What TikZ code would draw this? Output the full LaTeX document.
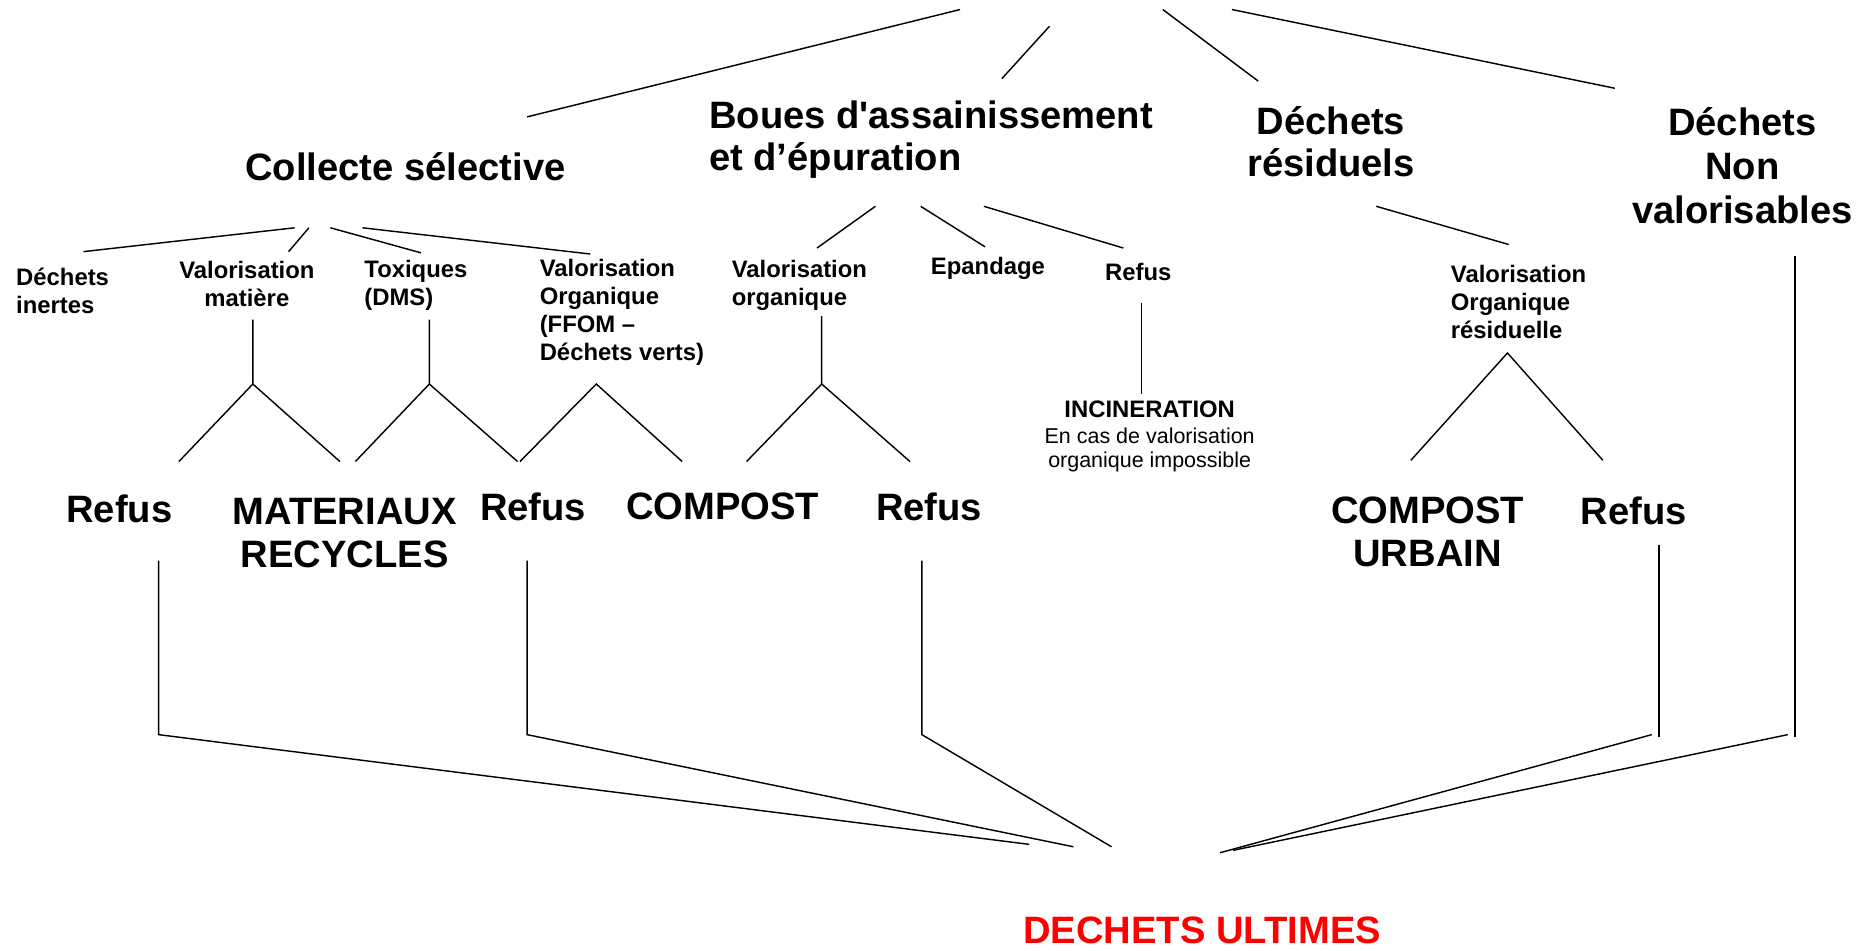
\documentclass[tikz,border=0pt]{standalone}
\usepackage{fontspec}
\setmainfont{Liberation Sans}[Ligatures=TeXOff]

\begin{document}
\begin{tikzpicture}[x=0.5pt, y=-0.5pt, line width=0.6pt,
    grand/.style={font=\fontsize{16}{17.75}\selectfont\bfseries, inner sep=0pt, align=center},
    moyen/.style={font=\fontsize{10}{11.75}\selectfont\bfseries, inner sep=0pt, align=left},
    petit/.style={font=\fontsize{9}{10}\selectfont, inner sep=0pt, align=center}]
    \useasboundingbox (0,0) rectangle (1568,797);

    % Catégories principales
    \node[grand] (collecte) at (340,140) {Collecte sélective};
    \node[grand, align=left, anchor=west] (boues) at (594,117) {Boues d'assainissement\\et d’épuration};
    \node[grand] (residuels) at (1116,119) {Déchets\\résiduels};
    \node[grand, font=\fontsize{16}{18.5}\selectfont\bfseries] (nonval) at (1461,139) {Déchets\\Non\\valorisables};

    % Filières
    \node[moyen, anchor=west] (inertes) at (13,244) {Déchets\\inertes};
    \node[moyen, align=center] (matiere) at (207,238) {Valorisation\\matière};
    \node[moyen, anchor=west] (toxiques) at (305,239) {Toxiques\\(DMS)};
    \node[moyen, anchor=west] (ffom) at (452,262) {Valorisation\\Organique\\(FFOM –\\Déchets verts)};
    \node[moyen, anchor=west] (orgboues) at (613,239) {Valorisation\\organique};
    \node[moyen, anchor=west] (epandage) at (780,225) {Epandage};
    \node[moyen, anchor=west] (refusboues) at (926,228) {Refus};
    \node[moyen, anchor=west] (orgresid) at (1216,253) {Valorisation\\Organique\\résiduelle};
    \node[moyen, align=center] (incin) at (964,343) {INCINERATION};
    \node[petit] (cas) at (964,377) {En cas de valorisation\\organique impossible};

    % Produits
    \node[grand] (refusA) at (100,427) {Refus};
    \node[grand] (materiaux) at (289,447) {MATERIAUX\\RECYCLES};
    \node[grand] (refusB) at (447,425) {Refus};
    \node[grand] (compost) at (606,425) {COMPOST};
    \node[grand] (refusC) at (779,425) {Refus};
    \node[grand] (urbain) at (1197,446) {COMPOST\\URBAIN};
    \node[grand] (refusD) at (1370,428) {Refus};

    % Écriture de texte de couleur
    \node[grand, color=red] (ultimes) at (1008,780) {DECHETS ULTIMES};

    \coordinate (A1) at (805,8);    \coordinate (A2) at (442,98);
    \coordinate (B1) at (880,22);   \coordinate (B2) at (840,66);
    \coordinate (C1) at (975,8);    \coordinate (C2) at (1055,68);
    \coordinate (D1) at (1033,8);   \coordinate (D2) at (1354,74);

    \coordinate (E1) at (247,191);  \coordinate (E2) at (70,211);
    \coordinate (F1) at (259,191);  \coordinate (F2) at (242,211);
    \coordinate (G1) at (277,191);  \coordinate (G2) at (353,212);
    \coordinate (H1) at (304,191);  \coordinate (H2) at (495,213);

    \coordinate (I1) at (734,173);  \coordinate (I2) at (685,208);
    \coordinate (J1) at (772,173);  \coordinate (J2) at (826,207);
    \coordinate (K1) at (825,173);  \coordinate (K2) at (942,208);
    \coordinate (L1) at (1154,173); \coordinate (L2) at (1265,205);

    \coordinate (M1) at (212,268);  \coordinate (M2) at (212,322);
    \coordinate (M3) at (150,387);  \coordinate (M4) at (285,387);
    \coordinate (N1) at (360,268);  \coordinate (N2) at (360,322);
    \coordinate (N3) at (298,387);  \coordinate (N4) at (434,387);
    \coordinate (O2) at (500,322);
    \coordinate (O3) at (436,387);  \coordinate (O4) at (572,387);
    \coordinate (P1) at (689,265);  \coordinate (P2) at (689,322);
    \coordinate (P3) at (626,387);  \coordinate (P4) at (763,387);
    \coordinate (Q1) at (957,254);  \coordinate (Q2) at (957,330);
    \coordinate (R2) at (1264,296);
    \coordinate (R3) at (1183,386); \coordinate (R4) at (1344,386);

    \coordinate (S1) at (133,470);  \coordinate (S2) at (133,616);  \coordinate (S3) at (863,708);
    \coordinate (T1) at (442,470);  \coordinate (T2) at (442,616);  \coordinate (T3) at (900,710);
    \coordinate (U1) at (773,470);  \coordinate (U2) at (773,616);  \coordinate (U3) at (932,710);
    \coordinate (V1) at (1391,457); \coordinate (V2) at (1391,618);
    \coordinate (V3) at (1385,616); \coordinate (V4) at (1023,715);
    \coordinate (W1) at (1505,215); \coordinate (W2) at (1505,618);
    \coordinate (W3) at (1499,616); \coordinate (W4) at (1034,713);

    \draw (A1) -- (A2);
    \draw (B1) -- (B2);
    \draw (C1) -- (C2);
    \draw (D1) -- (D2);

    \draw (E1) -- (E2);
    \draw (F1) -- (F2);
    \draw (G1) -- (G2);
    \draw (H1) -- (H2);
    \draw (I1) -- (I2);
    \draw (J1) -- (J2);
    \draw (K1) -- (K2);
    \draw (L1) -- (L2);

    \draw (M1) -- (M2) -- (M3);
    \draw (M2) -- (M4);
    \draw (N1) -- (N2) -- (N3);
    \draw (N2) -- (N4);
    \draw (O3) -- (O2) -- (O4);
    \draw (P1) -- (P2) -- (P3);
    \draw (P2) -- (P4);
    \draw (Q1) -- (Q2);
    \draw (R3) -- (R2) -- (R4);

    \draw (S1) -- (S2) -- (S3);
    \draw (T1) -- (T2) -- (T3);
    \draw (U1) -- (U2) -- (U3);
    \draw (V1) -- (V2);
    \draw (V3) -- (V4);
    \draw (W1) -- (W2);
    \draw (W3) -- (W4);
\end{tikzpicture}
\end{document}
